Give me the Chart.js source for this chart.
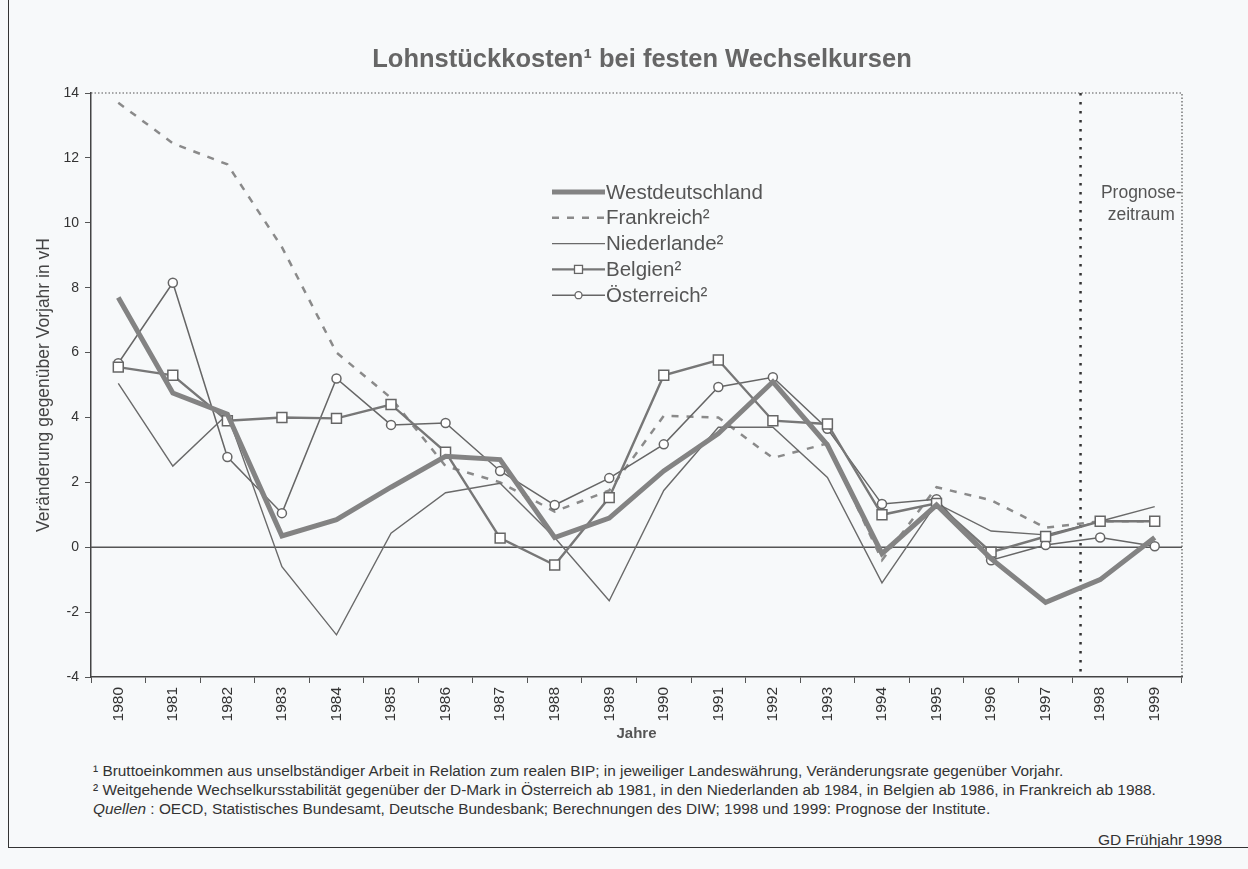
<!DOCTYPE html>
<html><head><meta charset="utf-8">
<script src="https://cdn.jsdelivr.net/npm/chart.js@4"></script>
<style>
html,body{margin:0;padding:0;background:#f7f9fa;}
body{width:1248px;height:869px;position:relative;overflow:hidden;font-family:"Liberation Sans",Arial,sans-serif;}
#frame{position:absolute;left:8px;top:-1px;width:1240px;height:848px;border-left:1px solid #333;border-bottom:1px solid #333;}
#wrap{position:absolute;left:0;top:0;width:1248px;height:760px;}
#title{position:absolute;left:0;width:1284px;top:42px;text-align:center;font-size:25.5px;font-weight:bold;color:#666;line-height:32px;}
.fn{position:absolute;left:93px;font-size:15.4px;color:#333;white-space:nowrap;line-height:17px;}
#gd{position:absolute;right:26px;top:831px;font-size:15.5px;color:#333;}
</style></head>
<body>
<div id="frame"></div>
<div id="wrap"><canvas id="c" width="1248" height="760"></canvas></div>
<div id="title">Lohnstückkosten¹ bei festen Wechselkursen</div>
<div class="fn" style="top:762px">¹ Bruttoeinkommen aus unselbständiger Arbeit in Relation zum realen BIP; in jeweiliger Landeswährung, Veränderungsrate gegenüber Vorjahr.</div>
<div class="fn" style="top:781px">² Weitgehende Wechselkursstabilität gegenüber der D-Mark in Österreich ab 1981, in den Niederlanden ab 1984, in Belgien ab 1986, in Frankreich ab 1988.</div>
<div class="fn" style="top:800px"><i>Quellen</i> : OECD, Statistisches Bundesamt, Deutsche Bundesbank; Berechnungen des DIW; 1998 und 1999: Prognose der Institute.</div>
<div id="gd">GD Frühjahr 1998</div>
<script>
const years = ['1980','1981','1982','1983','1984','1985','1986','1987','1988','1989','1990','1991','1992','1993','1994','1995','1996','1997','1998','1999'];
const westdeutschland = [7.7,4.75,4.1,0.35,0.85,1.85,2.8,2.7,0.3,0.9,2.35,3.5,5.1,3.15,-0.2,1.3,-0.35,-1.7,-1.0,0.3];
const frankreich = [13.7,12.45,11.8,9.25,6.0,4.6,2.5,2.0,1.1,1.75,4.05,4.0,2.75,3.2,-0.4,1.85,1.45,0.6,0.8,0.8];
const niederlande = [5.05,2.5,4.1,-0.6,-2.7,0.43,1.68,1.97,0.3,-1.65,1.75,3.7,3.7,2.15,-1.1,1.35,0.5,0.38,0.8,1.25];
const belgien = [5.55,5.3,3.9,4.0,3.97,4.4,2.93,0.28,-0.55,1.53,5.3,5.77,3.9,3.8,1.0,1.35,-0.15,0.33,0.8,0.8];
const oesterreich = [5.67,8.15,2.78,1.05,5.2,3.77,3.83,2.35,1.3,2.13,3.17,4.94,5.24,3.65,1.33,1.48,-0.4,0.07,0.3,0.03];
const seriesNames = ['Westdeutschland','Frankreich²','Niederlande²','Belgien²','Österreich²'];
const yMin = -4, yMax = 14, yStep = 2;
const prognoseLabel = ['Prognose-','zeitraum'];
const prognoseStart = 17.64; // Position der Prognosegrenze in Kategorie-Einheiten

const FONT = '"Liberation Sans", Arial, sans-serif';
const datasets = [
  {label:seriesNames[0],data:westdeutschland,borderColor:'#838383',borderWidth:5,pointRadius:0,order:1},
  {label:seriesNames[1],data:frankreich,borderColor:'#8a8a8a',borderWidth:2.5,borderDash:[7,8],pointRadius:0,order:5},
  {label:seriesNames[2],data:niederlande,borderColor:'#6a6a6a',borderWidth:1.4,pointRadius:0,order:4},
  {label:seriesNames[3],data:belgien,borderColor:'#777777',borderWidth:2.4,pointStyle:'rect',pointRadius:7,pointBorderWidth:1.5,pointBorderColor:'#666',pointBackgroundColor:'#fff',order:2},
  {label:seriesNames[4],data:oesterreich,borderColor:'#666666',borderWidth:1.5,pointStyle:'circle',pointRadius:4.5,pointBorderWidth:1.5,pointBorderColor:'#666',pointBackgroundColor:'#fff',order:3}
];

const overlay = {
  id:'overlay',
  beforeDatasetsDraw(chart){
    const {ctx, chartArea:a, scales:{x,y}} = chart;
    ctx.save();
    const y0 = y.getPixelForValue(0);
    ctx.strokeStyle='#555'; ctx.lineWidth=1.5;
    ctx.beginPath(); ctx.moveTo(a.left,y0); ctx.lineTo(a.right,y0); ctx.stroke();
    ctx.setLineDash([1.5,2]); ctx.lineWidth=1.2; ctx.strokeStyle='#555';
    ctx.beginPath(); ctx.moveTo(a.left,a.top); ctx.lineTo(a.right,a.top); ctx.lineTo(a.right,a.bottom); ctx.stroke();
    const i0 = Math.floor(prognoseStart);
    const xf = x.getPixelForValue(i0) + (x.getPixelForValue(i0+1)-x.getPixelForValue(i0))*(prognoseStart-i0);
    ctx.setLineDash([2.5,6.5]); ctx.lineWidth=2.5; ctx.strokeStyle='#333';
    ctx.beginPath(); ctx.moveTo(xf,a.top); ctx.lineTo(xf,a.bottom); ctx.stroke();
    ctx.restore();
    ctx.save();
    ctx.fillStyle='#555'; ctx.font='17.5px '+FONT; ctx.textAlign='center'; ctx.textBaseline='middle';
    const cx = (xf + a.right)/2 + 10;
    ctx.fillText(prognoseLabel[0], cx, 193);
    ctx.fillText(prognoseLabel[1], cx, 215);
    ctx.restore();
  },
  afterDatasetsDraw(chart){
    const {ctx} = chart;
    ctx.save();
    const lx0=552, lx1=605, tx=606, ty0=192, dy=25.8;
    ctx.font='20.5px '+FONT; ctx.textBaseline='middle'; ctx.fillStyle='#555';
    chart.data.datasets.forEach((ds,i)=>{
      const yy = ty0 + i*dy;
      ctx.save();
      ctx.strokeStyle=ds.borderColor; ctx.lineWidth=ds.borderWidth;
      ctx.setLineDash(ds.borderDash||[]);
      ctx.beginPath(); ctx.moveTo(lx0,yy); ctx.lineTo(lx1,yy); ctx.stroke();
      ctx.setLineDash([]);
      const mx=(lx0+lx1)/2;
      if(ds.pointStyle==='rect'){
        ctx.fillStyle='#fff'; ctx.strokeStyle='#666'; ctx.lineWidth=1.3;
        ctx.fillRect(mx-4,yy-4,8,8); ctx.strokeRect(mx-4,yy-4,8,8);
      } else if(ds.pointStyle==='circle' && ds.pointRadius>0){
        ctx.fillStyle='#fff'; ctx.strokeStyle='#666'; ctx.lineWidth=1.3;
        ctx.beginPath(); ctx.arc(mx,yy,3.5,0,Math.PI*2); ctx.fill(); ctx.stroke();
      }
      ctx.restore();
      ctx.fillText(ds.label, tx, yy+1);
    });
    ctx.restore();
  }
};

new Chart(document.getElementById('c'),{
  type:'line',
  data:{labels:years,datasets},
  options:{
    responsive:false, animation:false,
    layout:{padding:{left:34,right:66,top:93,bottom:17}},
    plugins:{legend:{display:false}, tooltip:{enabled:false}, title:{display:false}},
    elements:{line:{tension:0}},
    scales:{
      x:{offset:true,
        grid:{drawOnChartArea:false,tickLength:6,color:'#555',offset:true},
        border:{color:'#444',width:1.5},
        ticks:{color:'#333',font:{family:FONT,size:15.5},maxRotation:90,minRotation:90,autoSkip:false,padding:4},
        title:{display:true,text:'Jahre',color:'#555',font:{family:FONT,size:15,weight:'bold'},padding:{top:0,bottom:0}},
        afterFit(s){ s.height = 760-17-677; }
      },
      y:{min:yMin,max:yMax,
        grid:{drawOnChartArea:false,tickLength:6,color:'#555'},
        border:{color:'#444',width:1.5},
        ticks:{stepSize:yStep,color:'#333',font:{family:FONT,size:14},padding:6},
        title:{display:true,text:'Veränderung gegenüber Vorjahr in vH',color:'#444',font:{family:FONT,size:17.5},padding:{top:0,bottom:4}},
        afterFit(s){ s.width = 91-34; }
      }
    }
  },
  plugins:[overlay]
});
</script>
</body></html>
